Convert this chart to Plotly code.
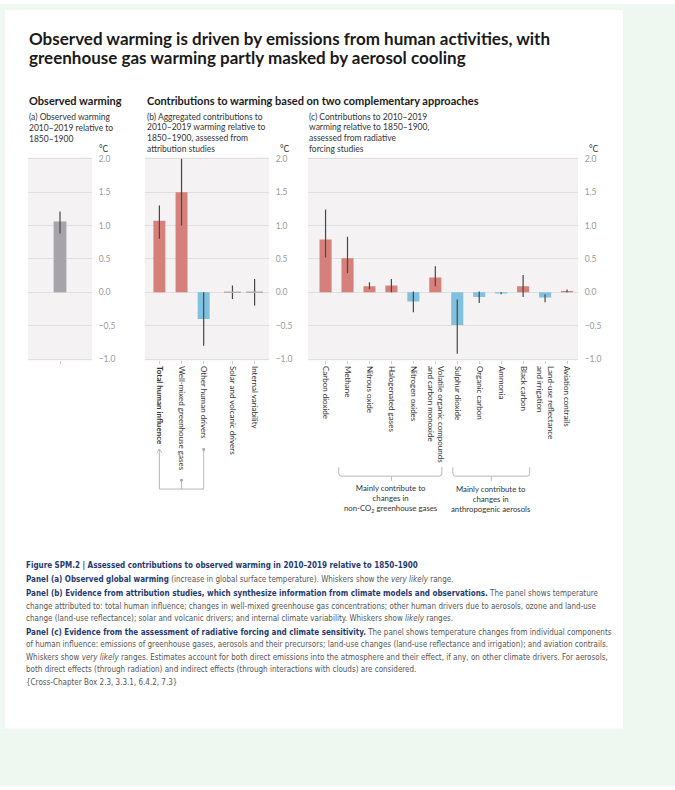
import plotly.graph_objects as go

W, H = 675, 790

# ---------------- data ----------------
obs_labels = ["Observed warming"]
obs_value = [1.06]
obs_low = [0.88]
obs_high = [1.21]

attr_labels = ["<b>Total human influence</b>", "Well-mixed greenhouse gases",
               "Other human drivers", "Solar and volcanic drivers", "Internal variability"]
attr_value = [1.07, 1.50, -0.40, 0.00, 0.00]
attr_low = [0.80, 1.00, -0.80, -0.10, -0.20]
attr_high = [1.30, 2.00, 0.00, 0.10, 0.20]

forc_labels = ["Carbon dioxide", "Methane", "Nitrous oxide", "Halogenated gases",
               "Nitrogen oxides", "Volatile organic compounds<br>and carbon monoxide",
               "Sulphur dioxide", "Organic carbon", "Ammonia", "Black carbon",
               "Land-use reflectance<br>and irrigation", "Aviation contrails"]
forc_value = [0.79, 0.51, 0.09, 0.10, -0.14, 0.22, -0.49, -0.07, -0.02, 0.09, -0.08, 0.02]
forc_low = [0.52, 0.29, 0.05, 0.00, -0.30, 0.09, -0.92, -0.16, -0.03, -0.07, -0.15, 0.00]
forc_high = [1.24, 0.83, 0.15, 0.20, 0.01, 0.39, -0.11, 0.01, 0.00, 0.26, -0.03, 0.04]

y_ticks = [-1.0, -0.5, 0.0, 0.5, 1.0, 1.5, 2.0]

# ---------------- style ----------------
RED = "#d6807b"
BLUE = "#7fc1de"
GREY = "#a6a4a8"
WHISK = "#474747"
BG = "#f4f2f3"
GRID = "#e0dedf"
MINT = "#eff8f0"
NAVY = "#1f3a6f"
FONT = "Lato"
CAPFONT = "DejaVu Sans Condensed"


def px(x):
    return x / W


def py(y):
    return 1 - y / H


def colours(vals):
    return [RED if v > 0 else BLUE for v in vals]


attr_pos = [0, 1, 2, 3.3, 4.3]
forc_pos = list(range(len(forc_labels)))

fig = go.Figure()

# panel a
fig.add_trace(go.Bar(
    x=[0], y=obs_value, width=0.2, marker=dict(color=GREY, line_width=0),
    error_y=dict(type="data", symmetric=False,
                 array=[h - v for h, v in zip(obs_high, obs_value)],
                 arrayminus=[v - l for v, l in zip(obs_value, obs_low)],
                 color=WHISK, thickness=1.2, width=0),
    xaxis="x", yaxis="y", hoverinfo="skip", name=obs_labels[0]))

# panel b
fig.add_trace(go.Bar(
    x=attr_pos, y=attr_value, width=0.54,
    marker=dict(color=colours(attr_value), line_width=0),
    error_y=dict(type="data", symmetric=False,
                 array=[h - v for h, v in zip(attr_high, attr_value)],
                 arrayminus=[v - l for v, l in zip(attr_value, attr_low)],
                 color=WHISK, thickness=1.2, width=0),
    xaxis="x2", yaxis="y2", hoverinfo="skip"))
zero_pos = [p for p, v in zip(attr_pos, attr_value) if v == 0]
fig.add_trace(go.Scatter(
    x=zero_pos, y=[0] * len(zero_pos), mode="markers",
    marker=dict(symbol="line-ew", size=12, line=dict(width=1.5, color="#b4b2b4")),
    xaxis="x2", yaxis="y2", hoverinfo="skip"))

# panel c
fig.add_trace(go.Bar(
    x=forc_pos, y=forc_value, width=0.55,
    marker=dict(color=colours(forc_value), line_width=0),
    error_y=dict(type="data", symmetric=False,
                 array=[h - v for h, v in zip(forc_high, forc_value)],
                 arrayminus=[v - l for v, l in zip(forc_value, forc_low)],
                 color=WHISK, thickness=1.2, width=0),
    xaxis="x3", yaxis="y3", hoverinfo="skip"))

ydom = [py(360), py(155)]


def yax(anchor):
    return dict(domain=ydom, range=[-1.02, 2.02], side="right", anchor=anchor,
                tickvals=y_ticks, tickformat=".1f", showgrid=True, gridcolor=GRID,
                gridwidth=1, zeroline=False, showline=False, ticks="outside",
                ticklen=4, tickcolor="rgba(0,0,0,0)",
                tickfont=dict(family=FONT, size=8.5, color="#9a9a9a"), fixedrange=True)


def xax(domain, rng, vals, text, anchor):
    d = dict(domain=domain, range=rng, anchor=anchor, tickvals=vals,
             tickangle=90, showgrid=False, zeroline=False, showline=False,
             ticks="outside", ticklen=3, tickcolor="#cfcdce",
             tickfont=dict(family=FONT, size=8, color="#333333"), fixedrange=True)
    if text is not None:
        d["ticktext"] = text
    else:
        d["showticklabels"] = False
    return d


fig.update_layout(
    width=W, height=H, autosize=False,
    margin=dict(l=0, r=0, t=0, b=0),
    paper_bgcolor="white", plot_bgcolor=BG,
    showlegend=False, barmode="overlay",
    xaxis=xax([px(28), px(92)], [-0.5, 0.5], [0], None, "y"), yaxis=yax("x"),
    xaxis2=xax([px(145), px(269)], [-0.65, 4.95], attr_pos, attr_labels, "y2"),
    yaxis2=yax("x2"),
    xaxis3=xax([px(308), px(578)], [-0.8, 11.5], forc_pos, forc_labels, "y3"),
    yaxis3=yax("x3"),
)

shapes = []
# mint surround (card is the white paper)
for x0, y0, x1, y1 in [(623, 0, 675, 790), (0, 732, 623, 790), (0, 0, 623, 6), (0, 6, 5, 732)]:
    shapes.append(dict(type="rect", xref="paper", yref="paper", x0=px(x0), x1=px(x1),
                       y0=py(y1), y1=py(y0), fillcolor=MINT, line_width=0, layer="below"))

BR = "#b9b7b8"
# panel b connector
for xv, ytop in [(0, 450), (2, 450), (1, 481)]:
    shapes.append(dict(type="line", xref="x2", yref="paper", x0=xv, x1=xv,
                       y0=py(ytop), y1=py(490), line=dict(color=BR, width=1)))
shapes.append(dict(type="line", xref="x2", yref="paper", x0=0, x1=2,
                   y0=py(490), y1=py(490), line=dict(color=BR, width=1)))
shapes.append(dict(type="path", xref="x2", yref="paper",
                   path=f"M -0.11,{py(453.5)} L 0,{py(449.5)} L 0.11,{py(453.5)}",
                   line=dict(color=BR, width=1)))
for xv, yv in [(2, 450), (1, 481)]:
    shapes.append(dict(type="circle", xref="x2", yref="paper",
                       x0=xv - 0.07, x1=xv + 0.07, y0=py(yv + 1.5), y1=py(yv - 1.5),
                       fillcolor="#a9a7a8", line_width=0))


# panel c brackets
def bracket(xl, xr, xc):
    r = 0.12
    rp = 3.0
    yt, yb, yc = py(468), py(477), py(482)
    p = (f"M {xl},{yt} L {xl},{py(477 - rp)} Q {xl},{yb} {xl + r},{yb} "
         f"L {xr - r},{yb} Q {xr},{yb} {xr},{py(477 - rp)} L {xr},{yt} "
         f"M {xc},{yb} L {xc},{yc}")
    return dict(type="path", xref="x3", yref="paper", path=p, line=dict(color=BR, width=1))


shapes.append(bracket(0.6, 5.3, 3.0))
shapes.append(bracket(5.8, 9.3, 7.55))

anns = []


def txt(x, y, s, size, color="#333333", family=FONT, xanchor="left", xref="paper"):
    anns.append(dict(x=(x / W if xref == "paper" else x), y=py(y), xref=xref, yref="paper",
                     text=s, showarrow=False, xanchor=xanchor, yanchor="middle",
                     align=xanchor, borderpad=0,
                     font=dict(family=family, size=size, color=color)))


# title
txt(28, 35, "<b>Observed warming is driven by emissions from human activities, with</b>", 17, "#1a1a1a")
txt(28, 54, "<b>greenhouse gas warming partly masked by aerosol cooling</b>", 17, "#1a1a1a")
txt(28, 97, "<b>Observed warming</b>", 11, "#1a1a1a")
txt(146, 97, "<b>Contributions to warming based on two complementary approaches</b>", 11, "#1a1a1a")

for i, s in enumerate(["(a) Observed warming", "2010–2019 relative to", "1850–1900"]):
    txt(28, 114 + 11 * i, s, 8.5)
for i, s in enumerate(["(b) Aggregated contributions to", "2010–2019 warming relative to",
                       "1850–1900, assessed from", "attribution studies"]):
    txt(146, 114 + 10.7 * i, s, 8.5)
for i, s in enumerate(["(c) Contributions to 2010–2019", "warming relative to 1850–1900,",
                       "assessed from radiative", "forcing studies"]):
    txt(308, 114 + 10.7 * i, s, 8.5)
for xr in [110, 291, 600]:
    txt(xr, 146, "°C", 8.5, "#333333", xanchor="right")

# bracket labels
for xc, s in [(3.0, "Mainly contribute to<br>changes in<br>non-CO<sub>2</sub> greenhouse gases"),
              (7.55, "Mainly contribute to<br>changes in<br>anthropogenic aerosols")]:
    txt(xc, 500, s, 7.8, "#333333", xanchor="center", xref="x3")


# caption
def hb(s):
    return f'<span style="color:{NAVY}"><b>{s}</b></span>'


cap = [
    (567, hb("Figure SPM.2 | Assessed contributions to observed warming in 2010–2019 relative to 1850–1900")),
    (581, hb("Panel (a) Observed global warming") + " (increase in global surface temperature). Whiskers show the <i>very likely</i> range."),
    (596, hb("Panel (b) Evidence from attribution studies, which synthesize information from climate models and observations.") + " The panel shows temperature"),
    (608.5, "change attributed to: total human influence; changes in well-mixed greenhouse gas concentrations; other human drivers due to aerosols, ozone and land-use"),
    (621, "change (land-use reflectance); solar and volcanic drivers; and internal climate variability. Whiskers show <i>likely</i> ranges."),
    (635, hb("Panel (c) Evidence from the assessment of radiative forcing and climate sensitivity.") + " The panel shows temperature changes from individual components"),
    (647.5, "of human influence: emissions of greenhouse gases, aerosols and their precursors; land-use changes (land-use reflectance and irrigation); and aviation contrails."),
    (660, "Whiskers show <i>very likely</i> ranges. Estimates account for both direct emissions into the atmosphere and their effect, if any, on other climate drivers. For aerosols,"),
    (672.5, "both direct effects (through radiation) and indirect effects (through interactions with clouds) are considered."),
    (685, "{Cross-Chapter Box 2.3, 3.3.1, 6.4.2, 7.3}"),
]
for y, s in cap:
    txt(25, y, s, 8, "#555555", family=CAPFONT)

fig.update_layout(shapes=shapes, annotations=anns)

fig.write_html("out.html", config={"displayModeBar": False, "staticPlot": True})
